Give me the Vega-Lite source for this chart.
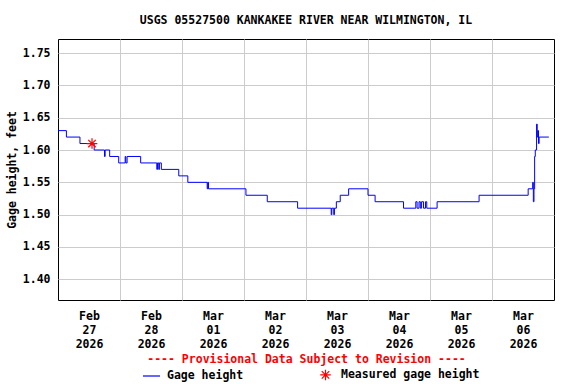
{
  "$schema": "https://vega.github.io/schema/vega-lite/v6.json",
  "width": 496,
  "height": 261,
  "autosize": "none",
  "padding": {"left": 58, "top": 39, "right": 22, "bottom": 84},
  "background": "white",
  "title": {
    "text": "USGS 05527500 KANKAKEE RIVER NEAR WILMINGTON, IL",
    "font": "DejaVu Sans Mono",
    "fontSize": 11.5,
    "fontWeight": "bold",
    "color": "black",
    "anchor": "middle",
    "frame": "group",
    "offset": 13
  },
  "config": {
    "font": "DejaVu Sans Mono",
    "view": {"stroke": "black", "strokeWidth": 1},
    "axis": {
      "labelFont": "DejaVu Sans Mono",
      "labelFontSize": 11.5,
      "labelFontWeight": "bold",
      "labelColor": "black",
      "titleFont": "DejaVu Sans Mono",
      "titleFontSize": 11.5,
      "titleFontWeight": "bold",
      "titleColor": "black",
      "gridColor": "#cccccc",
      "gridWidth": 1,
      "domain": false,
      "ticks": false
    },
    "legend": {
      "orient": "none",
      "legendX": 84,
      "legendY": 326,
      "direction": "horizontal",
      "title": null,
      "padding": 0,
      "columnPadding": 72,
      "labelOffset": 6,
      "symbolSize": 289,
      "symbolStrokeWidth": 1.2,
      "labelFont": "DejaVu Sans Mono",
      "labelFontSize": 11.5,
      "labelFontWeight": "bold",
      "labelColor": "black"
    }
  },
  "encoding": {
    "x": {
      "field": "t",
      "type": "temporal",
      "title": "---- Provisional Data Subject to Revision ----",
      "scale": {
        "domain": [
          {"year": 2026, "month": 2, "date": 27},
          {"year": 2026, "month": 3, "date": 7}
        ]
      },
      "axis": {
        "values": [
          {"year": 2026, "month": 2, "date": 27},
          {"year": 2026, "month": 2, "date": 28},
          {"year": 2026, "month": 3, "date": 1},
          {"year": 2026, "month": 3, "date": 2},
          {"year": 2026, "month": 3, "date": 3},
          {"year": 2026, "month": 3, "date": 4},
          {"year": 2026, "month": 3, "date": 5},
          {"year": 2026, "month": 3, "date": 6}
        ],
        "format": "%b %d %Y",
        "labelExpr": "split(datum.label, ' ')",
        "labelOffset": 31,
        "labelPadding": 10,
        "labelLineHeight": 14,
        "labelFlush": false,
        "labelOverlap": false,
        "labelBound": false,
        "labelAngle": 0,
        "gridOpacity": {"condition": {"test": "datum.value < datetime(2026, 1, 27, 6)", "value": 0}, "value": 1},
        "titleColor": "#ff0000",
        "titlePadding": 4
      }
    },
    "y": {
      "field": "v",
      "type": "quantitative",
      "title": "Gage height, feet",
      "scale": {"domain": [1.368, 1.7717], "nice": false, "zero": false},
      "axis": {
        "values": [1.40, 1.45, 1.50, 1.55, 1.60, 1.65, 1.70, 1.75],
        "format": ".2f",
        "labelPadding": 8,
        "labelOverlap": false,
        "labelFlush": false,
        "titlePadding": 5
      }
    }
  },
  "layer": [
    {
      "data": {
        "values": [
          {"t": "2026-02-27T00:00", "v": 1.63},
          {"t": "2026-02-27T03:15", "v": 1.62},
          {"t": "2026-02-27T08:30", "v": 1.61},
          {"t": "2026-02-27T14:00", "v": 1.60},
          {"t": "2026-02-27T18:00", "v": 1.59},
          {"t": "2026-02-27T18:15", "v": 1.60},
          {"t": "2026-02-27T20:00", "v": 1.59},
          {"t": "2026-02-27T23:30", "v": 1.58},
          {"t": "2026-02-28T02:00", "v": 1.59},
          {"t": "2026-02-28T02:15", "v": 1.58},
          {"t": "2026-02-28T02:45", "v": 1.59},
          {"t": "2026-02-28T08:00", "v": 1.58},
          {"t": "2026-02-28T14:15", "v": 1.57},
          {"t": "2026-02-28T14:30", "v": 1.58},
          {"t": "2026-02-28T15:00", "v": 1.57},
          {"t": "2026-02-28T15:15", "v": 1.58},
          {"t": "2026-02-28T16:00", "v": 1.57},
          {"t": "2026-02-28T22:45", "v": 1.56},
          {"t": "2026-03-01T02:15", "v": 1.55},
          {"t": "2026-03-01T09:45", "v": 1.54},
          {"t": "2026-03-01T10:00", "v": 1.55},
          {"t": "2026-03-01T10:15", "v": 1.54},
          {"t": "2026-03-02T00:45", "v": 1.53},
          {"t": "2026-03-02T09:00", "v": 1.52},
          {"t": "2026-03-02T20:45", "v": 1.51},
          {"t": "2026-03-03T09:45", "v": 1.50},
          {"t": "2026-03-03T10:00", "v": 1.51},
          {"t": "2026-03-03T10:45", "v": 1.50},
          {"t": "2026-03-03T11:00", "v": 1.51},
          {"t": "2026-03-03T11:45", "v": 1.52},
          {"t": "2026-03-03T13:15", "v": 1.53},
          {"t": "2026-03-03T16:30", "v": 1.54},
          {"t": "2026-03-04T00:00", "v": 1.53},
          {"t": "2026-03-04T02:45", "v": 1.52},
          {"t": "2026-03-04T13:45", "v": 1.51},
          {"t": "2026-03-04T18:30", "v": 1.52},
          {"t": "2026-03-04T19:00", "v": 1.51},
          {"t": "2026-03-04T19:45", "v": 1.52},
          {"t": "2026-03-04T20:15", "v": 1.51},
          {"t": "2026-03-04T20:45", "v": 1.52},
          {"t": "2026-03-04T21:30", "v": 1.51},
          {"t": "2026-03-04T22:15", "v": 1.52},
          {"t": "2026-03-04T22:45", "v": 1.51},
          {"t": "2026-03-05T02:45", "v": 1.52},
          {"t": "2026-03-05T19:00", "v": 1.53},
          {"t": "2026-03-06T14:00", "v": 1.54},
          {"t": "2026-03-06T15:45", "v": 1.55},
          {"t": "2026-03-06T16:00", "v": 1.52},
          {"t": "2026-03-06T16:15", "v": 1.54},
          {"t": "2026-03-06T16:30", "v": 1.59},
          {"t": "2026-03-06T16:45", "v": 1.60},
          {"t": "2026-03-06T17:15", "v": 1.64},
          {"t": "2026-03-06T17:30", "v": 1.62},
          {"t": "2026-03-06T17:45", "v": 1.63},
          {"t": "2026-03-06T18:00", "v": 1.61},
          {"t": "2026-03-06T18:15", "v": 1.62},
          {"t": "2026-03-06T22:00", "v": 1.62}
        ]
      },
      "mark": {"type": "line", "interpolate": "step-after", "strokeWidth": 1},
      "encoding": {
        "color": {
          "datum": "Gage height",
          "scale": {"domain": ["Gage height", "Measured gage height"], "range": ["#0000ff", "#ff0000"]}
        }
      }
    },
    {
      "data": {"values": [{"t": "2026-02-27T13:10", "v": 1.61}]},
      "mark": {"type": "point", "filled": false, "strokeWidth": 1.2, "size": 289, "opacity": 1},
      "encoding": {
        "color": {
          "datum": "Measured gage height",
          "scale": {"domain": ["Gage height", "Measured gage height"], "range": ["#0000ff", "#ff0000"]}
        },
        "shape": {
          "datum": "Measured gage height",
          "scale": {
            "domain": ["Gage height", "Measured gage height"],
            "range": ["stroke", "M-0.62,0L0.62,0M0,-0.62L0,0.62M-0.44,-0.44L0.44,0.44M-0.44,0.44L0.44,-0.44"]
          }
        }
      }
    }
  ]
}
